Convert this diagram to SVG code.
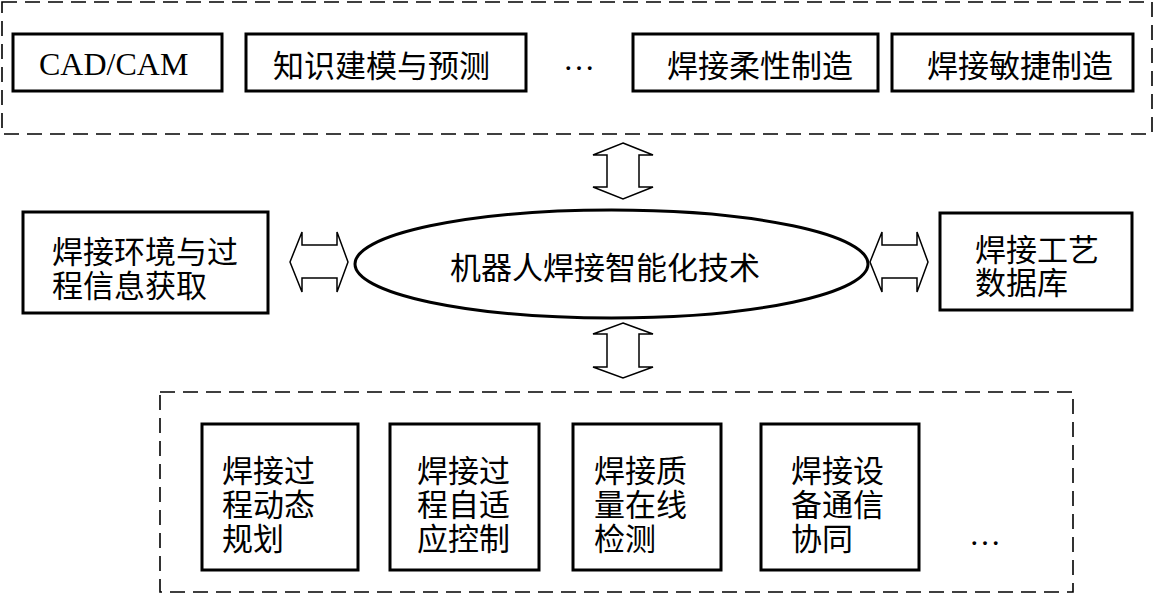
<svg xmlns="http://www.w3.org/2000/svg" width="1154" height="595" viewBox="0 0 1154 595">
<style>
.bg{fill:#fff}
.dash{fill:none;stroke:#000;stroke-width:1.6;stroke-dasharray:15 8}
.box{fill:#fff;stroke:#000;stroke-width:3}
.arr{fill:#fff;stroke:#000;stroke-width:1.5;stroke-linejoin:miter}
.cj{font-family:"Noto Sans CJK SC","Noto Sans CJK TC",sans-serif;font-size:31px;fill:#000;dominant-baseline:central}
.lat{font-family:"Liberation Serif","Times New Roman",serif;font-size:32px;fill:#000}
</style>
<rect class="bg" x="0" y="0" width="1154" height="595"/>
<g id="top-group">
  <rect class="dash" x="2" y="2" width="1150" height="132"/>
</g>
<g id="bottom-group">
  <rect class="dash" x="160" y="392" width="913" height="200"/>
</g>
<g id="cadcam">
  <rect class="box" x="13" y="34" width="209" height="57"/>
  <text class="lat" x="39" y="75">CAD/CAM</text>
</g>
<g id="knowledge">
  <rect class="box" x="246" y="34" width="280" height="57"/>
  <text class="cj" x="273" y="63">知识建模与预测</text>
</g>
<g id="top-ellipsis">
  <text class="lat" x="563" y="70">…</text>
</g>
<g id="flexible">
  <rect class="box" x="633" y="34" width="245" height="57"/>
  <text class="cj" x="667" y="63">焊接柔性制造</text>
</g>
<g id="agile">
  <rect class="box" x="892" y="34" width="241" height="57"/>
  <text class="cj" x="927" y="63">焊接敏捷制造</text>
</g>
<g id="env">
  <rect class="box" x="23" y="212" width="245" height="101"/>
  <text class="cj" x="52"><tspan x="52" y="249">焊接环境与过</tspan><tspan x="52" y="283">程信息获取</tspan></text>
</g>
<g id="center">
  <ellipse cx="611.5" cy="264" rx="256.5" ry="54" fill="#fff" stroke="#000" stroke-width="3"/>
  <text class="cj" x="605" y="265" text-anchor="middle">机器人焊接智能化技术</text>
</g>
<g id="database">
  <rect class="box" x="940" y="213" width="192" height="97"/>
  <text class="cj" x="975"><tspan x="975" y="247">焊接工艺</tspan><tspan x="975" y="280">数据库</tspan></text>
</g>
<g id="planning">
  <rect class="box" x="202" y="424" width="156" height="146"/>
  <text class="cj"><tspan x="222" y="468">焊接过</tspan><tspan x="222" y="502">程动态</tspan><tspan x="222" y="536">规划</tspan></text>
</g>
<g id="adaptive">
  <rect class="box" x="390" y="424" width="149" height="146"/>
  <text class="cj"><tspan x="417" y="468">焊接过</tspan><tspan x="417" y="502">程自适</tspan><tspan x="417" y="536">应控制</tspan></text>
</g>
<g id="quality">
  <rect class="box" x="573" y="424" width="148" height="146"/>
  <text class="cj"><tspan x="594" y="468">焊接质</tspan><tspan x="594" y="502">量在线</tspan><tspan x="594" y="536">检测</tspan></text>
</g>
<g id="comm">
  <rect class="box" x="761" y="424" width="158" height="146"/>
  <text class="cj"><tspan x="791" y="468">焊接设</tspan><tspan x="791" y="502">备通信</tspan><tspan x="791" y="536">协同</tspan></text>
</g>
<g id="bottom-ellipsis">
  <text class="lat" x="969" y="545">…</text>
</g>
<g id="connectors">
  <path class="arr" d="M623,143 L653,155 L639,155 L639,187 L653,187 L623,199 L593,187 L607,187 L607,155 L593,155 Z"/>
  <path class="arr" d="M623,323 L653,334 L639,334 L639,367 L653,367 L623,378 L593,367 L607,367 L607,334 L593,334 Z"/>
  <path class="arr" d="M290,262 L302,232 L302,245 L337,245 L337,232 L348,262 L337,292 L337,278 L302,278 L302,292 Z"/>
  <path class="arr" d="M870,262 L882,232 L882,245 L917,245 L917,232 L928,262 L917,292 L917,278 L882,278 L882,292 Z"/>
</g>
</svg>
